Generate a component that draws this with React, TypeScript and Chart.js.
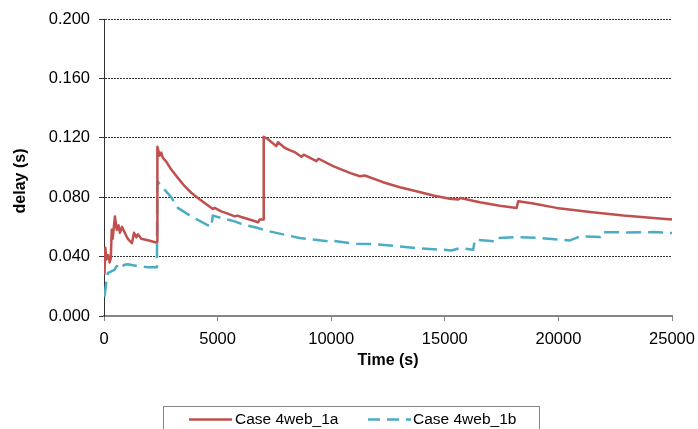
import React, { useEffect, useRef } from 'react';
import { Chart, registerables } from 'chart.js';

Chart.register(...registerables);

// ---- data ----
const redTime = [
  20, 60, 100, 180, 250, 300, 340, 380, 480, 560, 640, 700, 790, 980, 1050, 1230, 1320, 1420, 1490, 1640,
  1930, 2300, 2340, 2350, 2450, 2520, 2590, 2740, 2960, 3250, 3550, 3840, 4130, 4430, 4790, 4870, 5160,
  5450, 5750, 5870, 6040, 6340, 6780, 6850, 7000, 7030, 7220, 7580, 7660, 7950, 8170, 8390, 8690, 8790,
  9350, 9450, 10080, 10820, 11260, 11480, 12280, 13020, 13750, 14490, 15220, 15590, 15690, 16540, 17420,
  18160, 18230, 18890, 19920, 21390, 22860, 24180, 25000,
];
const redDelay = [
  0.028, 0.046, 0.038, 0.041, 0.036, 0.039, 0.058, 0.052, 0.067, 0.058, 0.061, 0.056, 0.060, 0.054, 0.052,
  0.049, 0.056, 0.053, 0.055, 0.052, 0.051, 0.0495, 0.050, 0.114, 0.108, 0.110, 0.1065, 0.104, 0.0986,
  0.093, 0.0874, 0.083, 0.0795, 0.0761, 0.0721, 0.0728, 0.0705, 0.0689, 0.0671, 0.0676, 0.0667, 0.0653,
  0.0631, 0.0649, 0.0649, 0.1207, 0.119, 0.1144, 0.117, 0.1133, 0.1117, 0.1104, 0.1072, 0.1086, 0.1043,
  0.1059, 0.1009, 0.0964, 0.0941, 0.0946, 0.0901, 0.0867, 0.084, 0.0811, 0.079, 0.0784, 0.0795, 0.0766,
  0.0743, 0.0728, 0.0772, 0.0757, 0.0728, 0.0701, 0.0676, 0.066, 0.0649,
];
const blueTime = [
  20, 95, 170, 320, 460, 540, 680, 760, 900, 1050, 1490, 1930, 2330, 2345, 2590, 2960, 3250, 3840, 4720,
  4790, 5160, 5750, 6040, 6780, 7290, 8610, 9930, 10000, 11110, 11800, 12720, 13750, 14930, 15290, 15660,
  16250, 16320, 17280, 17350, 18160, 19190, 20510, 20950, 21830, 21900, 23000, 24200, 25000,
];
const blueDelay = [
  0.013, 0.022, 0.0288, 0.030, 0.031, 0.0333, 0.0345, 0.0325, 0.0345, 0.0349, 0.0335, 0.0329, 0.0329,
  0.0908, 0.0863, 0.080, 0.0728, 0.0671, 0.0599, 0.0676, 0.066, 0.0637, 0.062, 0.0592, 0.057, 0.0525,
  0.0502, 0.0508, 0.0486, 0.0485, 0.0473, 0.0457, 0.0446, 0.0441, 0.0457, 0.0446, 0.0514, 0.0502, 0.0525,
  0.0532, 0.0525, 0.0509, 0.0536, 0.0532, 0.0565, 0.0563, 0.0565, 0.0559,
];
const seriesLabels = ['Case 4web_1a', 'Case 4web_1b'];
const xTitle = 'Time (s)';
const yTitle = 'delay (s)';
const xMin = 0, xMax = 25000, xStep = 5000;
const yMin = 0, yMax = 0.2, yStep = 0.04;

const RED = '#C0504D';
const BLUE = '#4BACC6';
const FONT = "'Liberation Sans', Arial, sans-serif";
const BLUE_DASH = [15, 7];

const decor = {
  id: 'decor',
  afterDraw(chart: any) {
    const ctx = chart.ctx as CanvasRenderingContext2D;
    const a = chart.chartArea;
    ctx.save();
    ctx.fillStyle = '#000';
    ctx.font = `bold 16px ${FONT}`;
    ctx.textAlign = 'center';
    ctx.textBaseline = 'middle';
    ctx.fillText(xTitle, (a.left + a.right) / 2, 361);
    ctx.save();
    ctx.translate(21, 181);
    ctx.rotate(-Math.PI / 2);
    ctx.fillText(yTitle, 0, 0);
    ctx.restore();

    // legend box
    ctx.strokeStyle = '#868686';
    ctx.lineWidth = 1;
    ctx.strokeRect(163.5, 406.5, 376, 40);
    const ds = chart.data.datasets;
    const items = [
      { x: 189, tx: 235 },
      { x: 368, tx: 413 },
    ];
    ctx.font = `15.5px ${FONT}`;
    ctx.textAlign = 'left';
    ds.forEach((d: any, i: number) => {
      const it = items[i];
      ctx.beginPath();
      ctx.strokeStyle = d.borderColor;
      ctx.lineWidth = 2.5;
      ctx.setLineDash(i === 1 ? [12, 7] : []);
      ctx.moveTo(it.x, 419.5);
      ctx.lineTo(it.x + 43, 419.5);
      ctx.stroke();
      ctx.setLineDash([]);
      ctx.fillStyle = '#000';
      ctx.fillText(d.label, it.tx, 420);
    });
    ctx.restore();
  },
};

export default function App() {
  const ref = useRef<HTMLCanvasElement>(null);
  useEffect(() => {
    if (!ref.current) return;
    const chart = new Chart(ref.current, {
      type: 'line',
      data: {
        datasets: [
          {
            label: seriesLabels[0],
            data: redTime.map((t, i) => ({ x: t, y: redDelay[i] })),
            borderColor: RED,
            backgroundColor: RED,
            borderWidth: 2.5,
            borderJoinStyle: 'round',
            pointRadius: 0,
            tension: 0,
            fill: false,
          },
          {
            label: seriesLabels[1],
            data: blueTime.map((t, i) => ({ x: t, y: blueDelay[i] })),
            borderColor: BLUE,
            backgroundColor: BLUE,
            borderWidth: 2.5,
            borderJoinStyle: 'round',
            borderDash: BLUE_DASH,
            pointRadius: 0,
            tension: 0,
            fill: false,
          },
        ],
      },
      options: {
        animation: false,
        responsive: false,
        devicePixelRatio: 1,
        layout: { padding: { left: 0, top: 19, right: 26, bottom: 0 } },
        plugins: { legend: { display: false }, tooltip: { enabled: false } },
        scales: {
          x: {
            type: 'linear',
            min: xMin,
            max: xMax,
            afterFit: (s: any) => { s.height = 113; s.paddingLeft = 0; s.paddingRight = 0; },
            ticks: {
              stepSize: xStep,
              color: '#000',
              font: { family: FONT, size: 16.5 },
              padding: 9,
              maxRotation: 0,
              callback: (v: any) => String(v),
            },
            grid: { drawOnChartArea: false, drawTicks: true, tickLength: 5, tickColor: '#868686', tickWidth: 1 },
            border: { display: true, color: '#868686', width: 2 },
          },
          y: {
            type: 'linear',
            min: yMin,
            max: yMax,
            afterFit: (s: any) => { s.width = 104; s.paddingTop = 0; s.paddingBottom = 0; },
            ticks: {
              stepSize: yStep,
              color: '#000',
              font: { family: FONT, size: 16.5 },
              padding: 9,
              callback: (v: any) => Number(v).toFixed(3),
            },
            grid: { color: '#333', lineWidth: 1, tickLength: 5, tickColor: '#333', tickWidth: 1 },
            border: { display: true, color: '#333', width: 1, dash: [2, 1] },
          },
        },
      },
      plugins: [decor],
    } as any);
    return () => chart.destroy();
  }, []);
  return (
    <div style={{ position: 'fixed', left: 0, top: 0, width: 698, height: 429, background: '#fff' }}>
      <canvas ref={ref} width={698} height={429} style={{ display: 'block' }} />
    </div>
  );
}
